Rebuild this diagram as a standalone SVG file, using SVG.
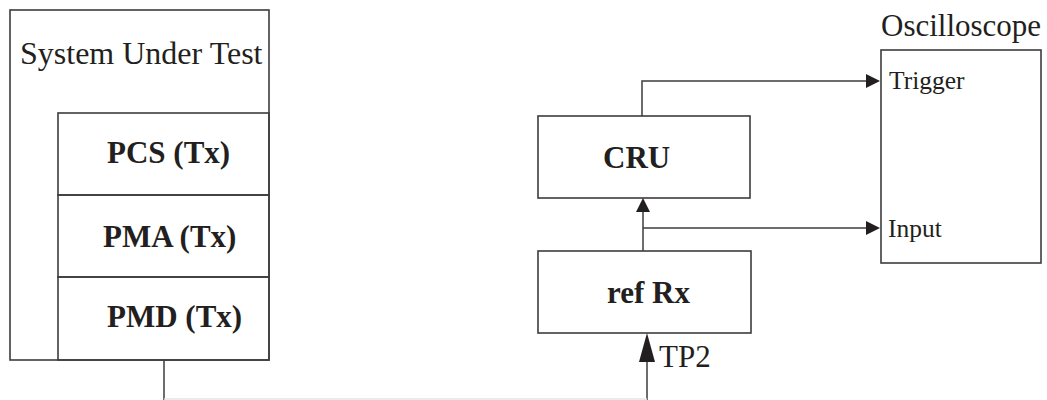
<svg xmlns="http://www.w3.org/2000/svg" width="1047" height="400" viewBox="0 0 1047 400">
<style>
.box{fill:none;stroke:#3c3c3c;stroke-width:1.6}
.ln{fill:none;stroke:#3c3c3c;stroke-width:1.5}
.t{font-family:"Liberation Serif","Times New Roman",serif;fill:#231f20}
.b{font-weight:bold;font-size:31px}
.r{font-size:31px}
.s{font-size:25.5px}
.ah{fill:#231f20}
</style>
<rect width="1047" height="400" fill="#ffffff"/>
<g id="sut">
<rect class="box" x="10" y="10" width="259" height="350"/>
<text class="t r" x="20" y="64" style="font-size:32px">System Under Test</text>
</g>
<g id="pcs">
<rect class="box" x="58" y="113" width="211" height="82"/>
<text class="t b" x="107" y="163">PCS (Tx)</text>
</g>
<g id="pma">
<rect class="box" x="58" y="195" width="211" height="82"/>
<text class="t b" x="103" y="247">PMA (Tx)</text>
</g>
<g id="pmd">
<rect class="box" x="58" y="277" width="211" height="83"/>
<text class="t b" x="107" y="327">PMD (Tx)</text>
</g>
<g id="cru">
<rect class="box" x="538" y="116" width="212" height="82"/>
<text class="t b" x="603" y="168">CRU</text>
</g>
<g id="refrx">
<rect class="box" x="538" y="251" width="213" height="82"/>
<text class="t b" x="607" y="303">ref Rx</text>
</g>
<g id="oscilloscope">
<rect class="box" x="881" y="50" width="160" height="213"/>
<text class="t r" x="881" y="36">Oscilloscope</text>
<text class="t s" x="889" y="89">Trigger</text>
<text class="t s" x="888" y="237">Input</text>
</g>
<g id="connectors">
<line class="ln" x1="164" y1="360" x2="164" y2="400"/>
<line class="ln" x1="647" y1="362" x2="647" y2="400"/>
<line x1="164" y1="399" x2="647" y2="399" stroke="#e4e4e4" stroke-width="1.5"/>
<polygon class="ah" points="647,333 639,362 655,362"/>
<text class="t r" x="659" y="367">TP2</text>
<line class="ln" x1="643" y1="251" x2="643" y2="211"/>
<polygon class="ah" points="643,198 636,212 650,212"/>
<line class="ln" x1="643" y1="228" x2="867" y2="228"/>
<polygon class="ah" points="880,228 866,221 866,235"/>
<polyline class="ln" points="642,116 642,81 867,81"/>
<polygon class="ah" points="880,81 866,74 866,88"/>
</g>
</svg>
